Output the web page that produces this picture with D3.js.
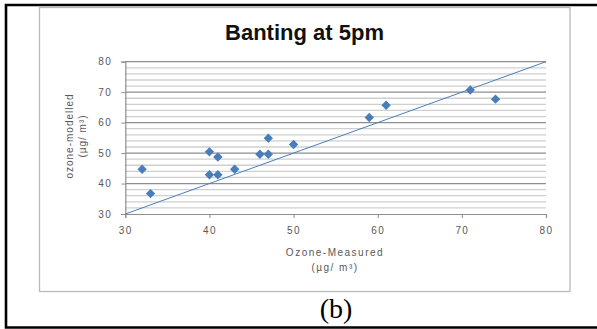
<!DOCTYPE html>
<html>
<head>
<meta charset="utf-8">
<script src="https://cdn.jsdelivr.net/npm/d3@7"></script>
<style>
  html, body { margin: 0; padding: 0; background: #fff; }
  svg { display: block; }
</style>
</head>
<body>
<svg id="chart" width="597" height="329"></svg>
<script>
// Ozone at Banting, 5pm: measured vs modelled concentrations (µg/m³)
const measured = [32, 33, 40, 41, 40, 41, 43, 46, 47, 47, 50, 59, 61, 71, 74];
const modelled = [44.7, 36.7, 50.4, 48.7, 42.9, 42.9, 44.7, 49.6, 49.6, 54.9, 52.8, 61.7, 65.7, 70.7, 67.7];
const xTicks = [30, 40, 50, 60, 70, 80];
const yTicks = [30, 40, 50, 60, 70, 80];
const minorY = d3.range(32, 80, 2).filter(v => v % 10 !== 0);
const identityLine = [30, 80]; // 1:1 reference line

const svg = d3.select("#chart");
const W = 597, H = 329;

// plot area
const x = d3.scaleLinear().domain([30, 80]).range([125.3, 546]);
const y = d3.scaleLinear().domain([30, 80]).range([214, 61.7]);

const labelFont = "'Liberation Sans', Arial, sans-serif";
const tickColor = "#595959";

// outer frame (open on the right)
svg.append("path")
  .attr("d", `M${W},5 H6 V327.5 H${W}`)
  .attr("fill", "none")
  .attr("stroke", "#000")
  .attr("stroke-width", 2.6);

// chart area border
svg.append("rect")
  .attr("x", 39.5).attr("y", 7.5)
  .attr("width", 530.5).attr("height", 284)
  .attr("fill", "none")
  .attr("stroke", "#b9b9b9")
  .attr("stroke-width", 1.3);

// title
svg.append("text")
  .attr("x", 304.5).attr("y", 40)
  .attr("text-anchor", "middle")
  .attr("font-family", labelFont)
  .attr("font-weight", "bold")
  .attr("font-size", 22)
  .attr("fill", "#111")
  .text("Banting at 5pm");

// minor gridlines
svg.append("g").selectAll("line").data(minorY).join("line")
  .attr("x1", x(30)).attr("x2", x(80))
  .attr("y1", d => y(d)).attr("y2", d => y(d))
  .attr("stroke", "#cfcfcf")
  .attr("stroke-width", 1.3);

// major gridlines
svg.append("g").selectAll("line").data(yTicks.filter(v => v > 30)).join("line")
  .attr("x1", x(30)).attr("x2", x(80))
  .attr("y1", d => y(d)).attr("y2", d => y(d))
  .attr("stroke", "#8e8e8e")
  .attr("stroke-width", 1.3);

// y axis
const yAxis = svg.append("g")
  .attr("transform", `translate(${x(30)},0)`)
  .call(d3.axisLeft(y).tickValues(yTicks).tickSize(4).tickPadding(9));
yAxis.select(".domain").attr("stroke", "#8e8e8e").attr("stroke-width", 1.2);
yAxis.selectAll(".tick line").attr("stroke", "#8e8e8e");
yAxis.selectAll(".tick text")
  .attr("fill", tickColor)
  .attr("font-family", labelFont)
  .attr("font-size", 10)
  .attr("letter-spacing", 1.4);

// x axis
const xAxis = svg.append("g")
  .attr("transform", `translate(0,${y(30)})`)
  .call(d3.axisBottom(x).tickValues(xTicks).tickSize(4).tickPadding(9));
xAxis.select(".domain").attr("stroke", "#8e8e8e").attr("stroke-width", 1.2);
xAxis.selectAll(".tick line").attr("stroke", "#8e8e8e");
xAxis.selectAll(".tick text")
  .attr("fill", tickColor)
  .attr("font-family", labelFont)
  .attr("font-size", 10)
  .attr("letter-spacing", 1.4);

// 1:1 line
svg.append("line")
  .attr("x1", x(identityLine[0])).attr("y1", y(identityLine[0]))
  .attr("x2", x(identityLine[1])).attr("y2", y(identityLine[1]))
  .attr("stroke", "#4a7ebb")
  .attr("stroke-width", 1);

// points (diamond markers)
const diamond = d3.symbol().type(d3.symbolSquare).size(44);
svg.append("g").selectAll("path").data(measured).join("path")
  .attr("d", diamond)
  .attr("transform", (d, i) => `translate(${x(d)},${y(modelled[i])}) rotate(45)`)
  .attr("fill", "#4a7ebb");

// axis titles
const xTitle = svg.append("text")
  .attr("text-anchor", "middle")
  .attr("font-family", labelFont)
  .attr("font-size", 10)
  .attr("fill", tickColor)
  .attr("letter-spacing", 1.5);
xTitle.append("tspan").attr("x", 335).attr("y", 256).text("Ozone-Measured");
xTitle.append("tspan").attr("x", 335).attr("y", 271).text("(µg/ m³)");

const yTitle = svg.append("text")
  .attr("text-anchor", "middle")
  .attr("transform", "rotate(-90)")
  .attr("font-family", labelFont)
  .attr("font-size", 10)
  .attr("fill", tickColor)
  .attr("letter-spacing", 1.0);
yTitle.append("tspan").attr("x", -136).attr("y", 73).text("ozone-modelled");
yTitle.append("tspan").attr("x", -136).attr("y", 86).text("(µg/ m³)");

// panel label
svg.append("text")
  .attr("x", 336).attr("y", 318)
  .attr("text-anchor", "middle")
  .attr("font-family", "'Liberation Serif', 'Times New Roman', serif")
  .attr("font-size", 28)
  .attr("fill", "#000")
  .text("(b)");
</script>
</body>
</html>
